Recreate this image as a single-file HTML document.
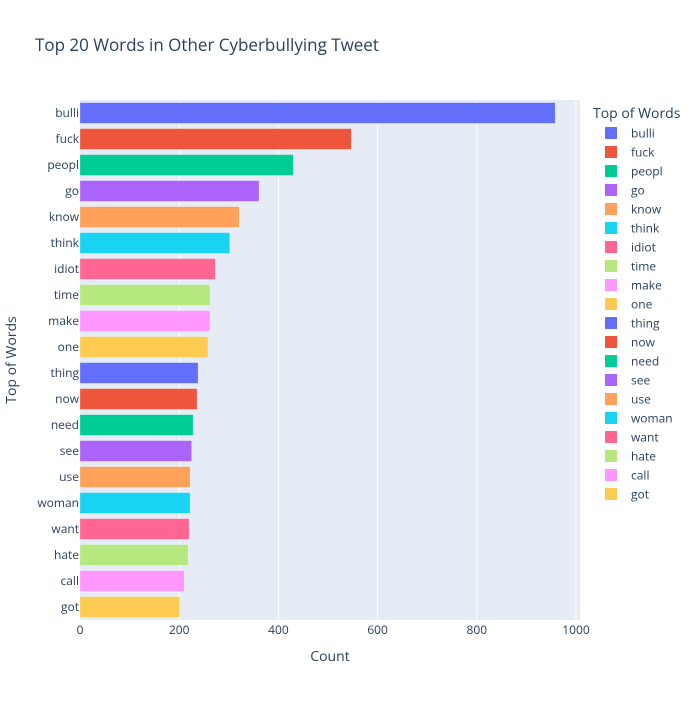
<!DOCTYPE html>
<html><head><meta charset="utf-8"><style>
body{margin:0;background:#fff}
svg{font-family:"Open Sans","Liberation Sans",sans-serif}
</style></head><body>
<svg id="chart" width="700" height="700" xmlns="http://www.w3.org/2000/svg">
<rect width="700" height="700" fill="#fff"/>
<text x="35" y="51" font-size="17" fill="#2a3f5f">Top 20 Words in Other Cyberbullying Tweet</text>
<rect x="80" y="100" width="500" height="520" fill="#e5ecf6"/>
<g id="grid"></g><g id="bars"></g><g id="ylabels"></g><g id="xlabels"></g><g id="legend"></g>
<text x="330" y="661" font-size="14" fill="#2a3f5f" text-anchor="middle">Count</text>
<text transform="translate(16,360) rotate(-90)" font-size="14" fill="#2a3f5f" text-anchor="middle">Top of Words</text>
<text x="593" y="118" font-size="14" fill="#2a3f5f">Top of Words</text>
</svg>
<script>
const categories=["bulli","fuck","peopl","go","know","think","idiot","time","make","one","thing","now","need","see","use","woman","want","hate","call","got"];
const counts=[958,547,430,361,321,302,273,262,262,258,238,236,228,225,222,222,220,218,210,201];
const xTicks=[0,200,400,600,800,1000];
const palette=["#636efa","#ef553b","#00cc96","#ab63fa","#ffa15a","#19d3f3","#ff6692","#b6e880","#ff97ff","#fecb52"];
const NS="http://www.w3.org/2000/svg";
const X0=80,X1=580,XMAX=1008,Y0=100,Y1=620;
const xs=v=>X0+v/XMAX*(X1-X0);
const band=(Y1-Y0)/categories.length;
function mk(t,a,p){const e=document.createElementNS(NS,t);for(const k in a)e.setAttribute(k,a[k]);document.getElementById(p).appendChild(e);return e;}
xTicks.forEach(t=>{
  if(t>0){const g=mk('line',{x1:xs(t),x2:xs(t),y1:Y0,y2:Y1,stroke:'#fff','stroke-width':1},'grid');
  
  }
  const l=mk('text',{x:xs(t),y:Y1+14,'font-size':12,fill:'#2a3f5f','text-anchor':'middle'},'xlabels');
  l.textContent=t;
  
  
});
categories.forEach((c,i)=>{
  const col=palette[i%10];
  const yc=Y0+band*(i+0.5);
  const r=mk('rect',{x:X0,y:yc-band*0.4,width:xs(counts[i])-X0,height:band*0.8,fill:col,stroke:'rgba(255,255,255,0.5)','stroke-width':0.5},'bars');
  
  
  const t=mk('text',{x:X0-1,y:yc+4,'font-size':12,fill:'#2a3f5f','text-anchor':'end'},'ylabels');
  t.textContent=c;
  
  
  const ly=133+19*i;
  const s=mk('rect',{x:605,y:ly-6,width:12,height:12,fill:col},'legend');
  
  
  const lt=mk('text',{x:631,y:ly+4.5,'font-size':12,fill:'#2a3f5f'},'legend');
  lt.textContent=c;
  
  
});
</script>
</body></html>
